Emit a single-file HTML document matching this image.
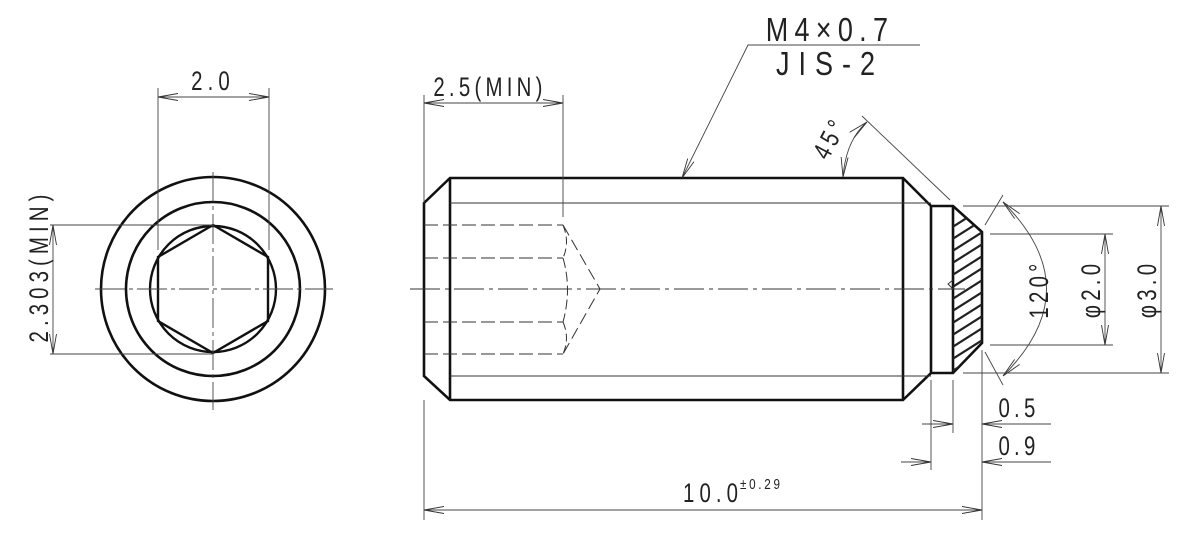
<!DOCTYPE html>
<html><head><meta charset="utf-8"><style>
html,body{margin:0;padding:0;background:#fff}
svg{display:block}
text{font-family:"Liberation Sans",sans-serif;fill:#222}
</style></head><body>
<svg width="1196" height="540" viewBox="0 0 1196 540" xmlns="http://www.w3.org/2000/svg">
<defs>
<marker id="a" viewBox="0 0 20 10" refX="20" refY="5" markerWidth="20" markerHeight="10" markerUnits="userSpaceOnUse" orient="auto-start-reverse">
<path d="M0,1.5 L20,5 L0,8.5" fill="none" stroke="#333" stroke-width="0.9"/>
</marker>
</defs>
<g fill="none" stroke="#111">
<circle cx="213" cy="289" r="112" stroke-width="2.6"/>
<circle cx="213" cy="289" r="87" stroke-width="2.6"/>
<circle cx="213" cy="289" r="63" stroke-width="2.4"/>
<polygon points="213,225 268,257 268,321 213,353 158,321 158,257" stroke-width="2.4"/>
</g>
<g fill="none" stroke="#444" stroke-width="0.9">
<line x1="95" y1="289" x2="333" y2="289" stroke-dasharray="30,4,4,4"/>
<line x1="213" y1="172" x2="213" y2="410" stroke-dasharray="30,4,4,4"/>
<line x1="158" y1="88" x2="158" y2="250"/>
<line x1="269" y1="88" x2="269" y2="250"/>
<line x1="158" y1="97" x2="269" y2="97" marker-start="url(#a)" marker-end="url(#a)"/>
<line x1="50" y1="225" x2="213" y2="225"/>
<line x1="50" y1="354" x2="213" y2="354"/>
<line x1="53" y1="225" x2="53" y2="354" marker-start="url(#a)" marker-end="url(#a)"/>
</g>
<text transform="translate(213,90) scale(0.85,1.1)" font-size="24" text-anchor="middle" letter-spacing="6">2.0</text>
<text transform="translate(48,266) rotate(-90) scale(0.85,1.1)" font-size="24" text-anchor="middle" letter-spacing="6">2.303(MIN)</text>

<g fill="none" stroke="#111" stroke-width="2.6">
<path d="M450,178 L903,178 L931,206 L931,373 L903,400 L450,400 L424,376 L424,203 Z"/>
<line x1="450" y1="178" x2="450" y2="400"/>
<line x1="903" y1="178" x2="903" y2="400"/>
<path d="M931,206 L953,206 L982,232 L982,343 L953,373 L931,373"/>
<line x1="953" y1="206" x2="953" y2="373"/>
</g>
<g fill="none" stroke="#222" stroke-width="2.2">
<clipPath id="c"><polygon points="953,206 982,232 982,343 953,373"/></clipPath>
<g clip-path="url(#c)">
<line x1="940" y1="235" x2="995" y2="200"/><line x1="940" y1="247" x2="995" y2="212"/>
<line x1="940" y1="259" x2="995" y2="224"/><line x1="940" y1="271" x2="995" y2="236"/>
<line x1="940" y1="283" x2="995" y2="248"/><line x1="940" y1="295" x2="995" y2="260"/>
<line x1="940" y1="307" x2="995" y2="272"/><line x1="940" y1="319" x2="995" y2="284"/>
<line x1="940" y1="331" x2="995" y2="296"/><line x1="940" y1="343" x2="995" y2="308"/>
<line x1="940" y1="355" x2="995" y2="320"/><line x1="940" y1="367" x2="995" y2="332"/>
<line x1="940" y1="379" x2="995" y2="344"/><line x1="940" y1="391" x2="995" y2="356"/>
<line x1="940" y1="403" x2="995" y2="368"/>
</g>
</g>
<g fill="none" stroke="#333" stroke-width="1">
<line x1="450" y1="203" x2="931" y2="203"/>
<line x1="450" y1="376" x2="931" y2="376"/>
<line x1="424" y1="225" x2="563" y2="225" stroke-dasharray="14,5"/>
<line x1="424" y1="258" x2="563" y2="258" stroke-dasharray="14,5"/>
<line x1="424" y1="322" x2="563" y2="322" stroke-dasharray="14,5"/>
<line x1="424" y1="354" x2="563" y2="354" stroke-dasharray="14,5"/>
<path d="M563,225 L600,289 L563,354" stroke-dasharray="12,5"/>
<path d="M563,258 Q572,289 563,322" stroke-dasharray="10,4"/>
<path d="M563,225 Q570,242 563,258" stroke-dasharray="8,4"/>
<path d="M563,322 Q570,338 563,354" stroke-dasharray="8,4"/>
<line x1="410" y1="289" x2="965" y2="289" stroke-dasharray="30,5,4,5"/>
<path d="M953,289 L948,284 L953,280"/>
</g>
<g fill="none" stroke="#444" stroke-width="0.9">
<line x1="424" y1="95" x2="424" y2="203"/>
<line x1="563" y1="95" x2="563" y2="217"/>
<line x1="424" y1="103" x2="563" y2="103" marker-start="url(#a)" marker-end="url(#a)"/>
<polyline points="920,45 748,45 682,178" marker-end="url(#a)"/>
<line x1="862" y1="116" x2="950" y2="200"/>
<path d="M843,177 Q846,140 867,122" marker-start="url(#a)" marker-end="url(#a)"/>
<line x1="985" y1="225" x2="1003" y2="195"/>
<line x1="985" y1="352" x2="1003" y2="385"/>
<path d="M1003,202 Q1090,289 1003,376" marker-start="url(#a)" marker-end="url(#a)"/>
<line x1="963" y1="206" x2="1169" y2="206"/>
<line x1="963" y1="373" x2="1169" y2="373"/>
<line x1="1161" y1="206" x2="1161" y2="373" marker-start="url(#a)" marker-end="url(#a)"/>
<line x1="990" y1="234" x2="1113" y2="234"/>
<line x1="990" y1="345" x2="1113" y2="345"/>
<line x1="1105" y1="234" x2="1105" y2="345" marker-start="url(#a)" marker-end="url(#a)"/>
<line x1="931" y1="380" x2="931" y2="470"/>
<line x1="953" y1="380" x2="953" y2="433"/>
<line x1="982" y1="350" x2="982" y2="520"/>
<line x1="922" y1="424" x2="953" y2="424" marker-end="url(#a)"/>
<line x1="1051" y1="424" x2="982" y2="424" marker-end="url(#a)"/>
<line x1="901" y1="462" x2="931" y2="462" marker-end="url(#a)"/>
<line x1="1051" y1="462" x2="982" y2="462" marker-end="url(#a)"/>
<line x1="424" y1="400" x2="424" y2="520"/>
<line x1="424" y1="510" x2="982" y2="510" marker-start="url(#a)" marker-end="url(#a)"/>
</g>
<text transform="translate(490,96) scale(0.85,1.1)" font-size="24" text-anchor="middle" letter-spacing="5">2.5(MIN)</text>
<text transform="translate(830,41) scale(0.9,1.1)" font-size="30" text-anchor="middle" letter-spacing="7">M4×0.7</text>
<text transform="translate(830,75) scale(0.9,1.1)" font-size="30" text-anchor="middle" letter-spacing="10">JIS-2</text>
<text transform="translate(838,142) rotate(-62) scale(0.85,1.1)" font-size="24" text-anchor="middle" letter-spacing="5">45°</text>
<text transform="translate(1048,289) rotate(-90) scale(0.85,1.1)" font-size="24" text-anchor="middle" letter-spacing="5">120°</text>
<text transform="translate(1100,289) rotate(-90) scale(0.85,1.1)" font-size="24" text-anchor="middle" letter-spacing="5">φ2.0</text>
<text transform="translate(1156,289) rotate(-90) scale(0.85,1.1)" font-size="24" text-anchor="middle" letter-spacing="5">φ3.0</text>
<text transform="translate(1019,417) scale(0.85,1.1)" font-size="24" text-anchor="middle" letter-spacing="5">0.5</text>
<text transform="translate(1019,455) scale(0.85,1.1)" font-size="24" text-anchor="middle" letter-spacing="5">0.9</text>
<text transform="translate(683,502) scale(0.85,1.1)" font-size="24" letter-spacing="6">10.0</text>
<text transform="translate(740,489) scale(0.9,1.1)" font-size="13" letter-spacing="3">±0.29</text>
</svg>
</body></html>
